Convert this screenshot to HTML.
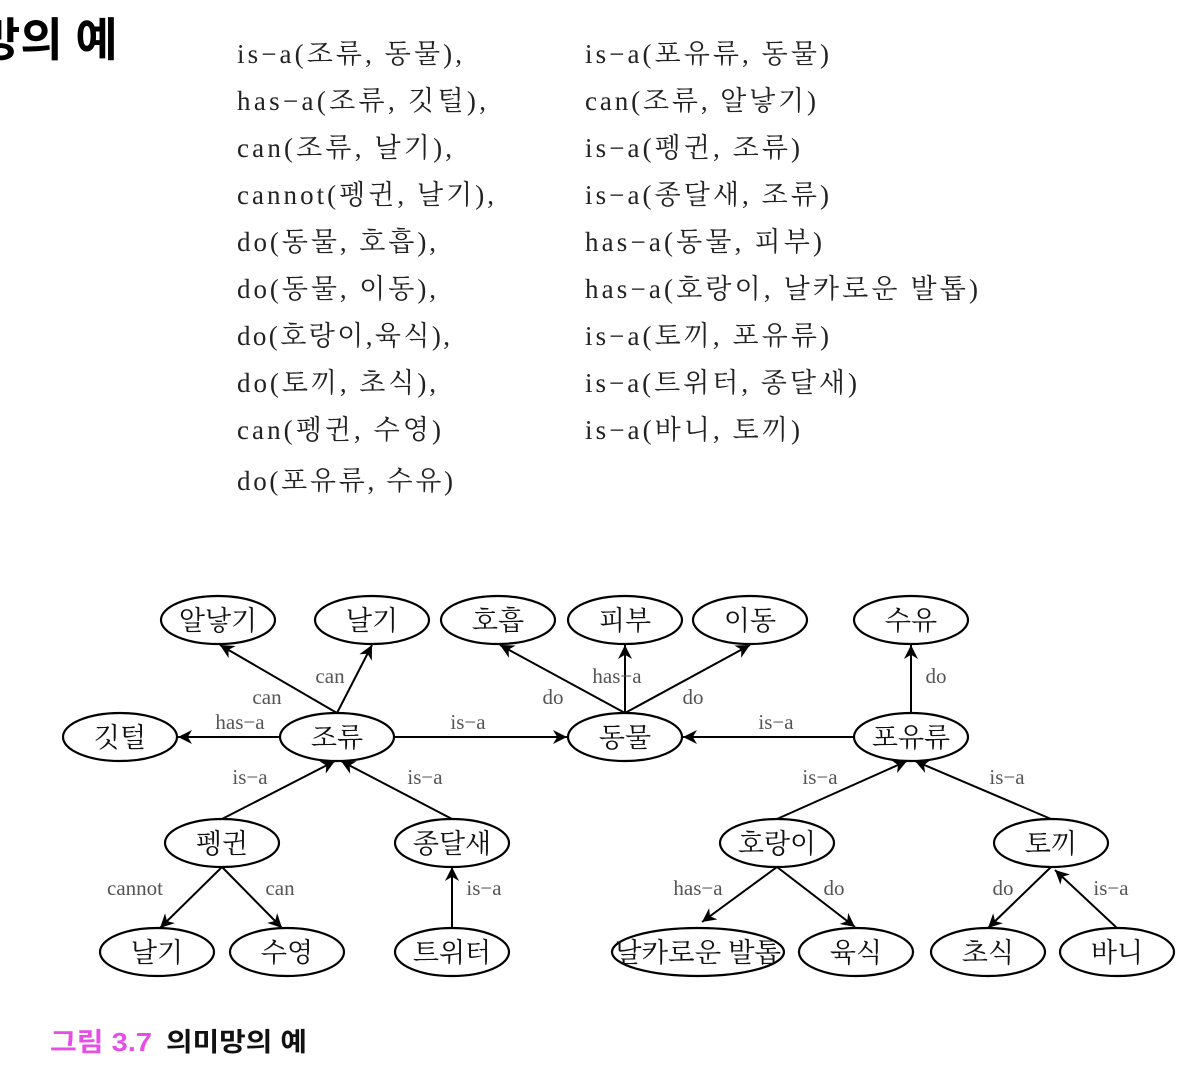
<!DOCTYPE html>
<html><head><meta charset="utf-8"><style>
body{margin:0;background:#fff;width:1198px;height:1064px;overflow:hidden}
svg text{font-family:"Liberation Serif","Noto Serif CJK KR","Noto Serif CJK SC",serif}
</style></head><body>
<svg width="1198" height="1064" viewBox="0 0 1198 1064" xmlns="http://www.w3.org/2000/svg">
<defs><marker id="a" viewBox="0 0 10 10" refX="10" refY="5" markerWidth="18" markerHeight="14" markerUnits="userSpaceOnUse" orient="auto"><path d="M0,0 L10,5 L0,10 L3,5z" fill="#000"/></marker></defs>
<text x="-22" y="56" font-size="46" font-weight="bold" style="font-family:'Liberation Sans','Noto Sans CJK KR',sans-serif">망의 예</text>
<g font-size="27" fill="#222" lengthAdjust="spacingAndGlyphs">
<text x="237" y="63" textLength="225">is−a(조류, 동물),</text>
<text x="237" y="110" textLength="249">has−a(조류, 깃털),</text>
<text x="237" y="157" textLength="215">can(조류, 날기),</text>
<text x="237" y="204" textLength="257">cannot(펭귄, 날기),</text>
<text x="237" y="251" textLength="199">do(동물, 호흡),</text>
<text x="237" y="298" textLength="199">do(동물, 이동),</text>
<text x="237" y="345" textLength="213">do(호랑이,육식),</text>
<text x="237" y="392" textLength="199">do(토끼, 초식),</text>
<text x="237" y="439" textLength="204">can(펭귄, 수영)</text>
<text x="237" y="490" textLength="216">do(포유류, 수유)</text>
<text x="585" y="63" textLength="244">is−a(포유류, 동물)</text>
<text x="585" y="110" textLength="231">can(조류, 알낳기)</text>
<text x="585" y="157" textLength="215">is−a(펭귄, 조류)</text>
<text x="585" y="204" textLength="244">is−a(종달새, 조류)</text>
<text x="585" y="251" textLength="237">has−a(동물, 피부)</text>
<text x="585" y="298" textLength="393">has−a(호랑이, 날카로운 발톱)</text>
<text x="585" y="345" textLength="244">is−a(토끼, 포유류)</text>
<text x="585" y="392" textLength="272">is−a(트위터, 종달새)</text>
<text x="585" y="439" textLength="215">is−a(바니, 토끼)</text>
</g>
<g fill="none" stroke="#000" stroke-width="2.2">
<ellipse cx="218" cy="620" rx="57" ry="24"/><ellipse cx="372" cy="620" rx="57" ry="24"/>
<ellipse cx="498" cy="620" rx="57" ry="24"/><ellipse cx="625" cy="620" rx="57" ry="24"/>
<ellipse cx="750" cy="620" rx="57" ry="24"/><ellipse cx="911" cy="620" rx="57" ry="24"/>
<ellipse cx="120" cy="737" rx="57" ry="24"/><ellipse cx="337" cy="737" rx="57" ry="24"/>
<ellipse cx="625" cy="737" rx="57" ry="24"/><ellipse cx="911" cy="737" rx="57" ry="24"/>
<ellipse cx="222" cy="843" rx="57" ry="24"/><ellipse cx="452" cy="843" rx="57" ry="24"/>
<ellipse cx="777" cy="843" rx="57" ry="24"/><ellipse cx="1051" cy="843" rx="57" ry="24"/>
<ellipse cx="157" cy="952" rx="57" ry="24"/><ellipse cx="287" cy="952" rx="57" ry="24"/>
<ellipse cx="452" cy="952" rx="57" ry="24"/><ellipse cx="698" cy="952" rx="86" ry="24"/>
<ellipse cx="856" cy="952" rx="57" ry="24"/><ellipse cx="988" cy="952" rx="57" ry="24"/>
<ellipse cx="1117" cy="952" rx="57" ry="24"/>
</g>
<g stroke="#000" stroke-width="2" marker-end="url(#a)">
<line x1="337" y1="713" x2="220" y2="645"/><line x1="337" y1="713" x2="372" y2="645"/>
<line x1="280" y1="737" x2="178" y2="737"/><line x1="394" y1="737" x2="567" y2="737"/>
<line x1="854" y1="737" x2="683" y2="737"/>
<line x1="625" y1="713" x2="500" y2="645"/><line x1="625" y1="713" x2="625" y2="645"/>
<line x1="625" y1="713" x2="750" y2="645"/><line x1="911" y1="713" x2="911" y2="645"/>
<line x1="222" y1="819" x2="335" y2="761"/><line x1="452" y1="819" x2="341" y2="761"/>
<line x1="452" y1="928" x2="452" y2="867"/>
<line x1="222" y1="867" x2="160" y2="928"/><line x1="222" y1="867" x2="282" y2="928"/>
<line x1="777" y1="819" x2="907" y2="761"/><line x1="1051" y1="819" x2="915" y2="761"/>
<line x1="777" y1="867" x2="702" y2="922"/><line x1="777" y1="867" x2="855" y2="927"/>
<line x1="1051" y1="867" x2="988" y2="928"/><line x1="1117" y1="928" x2="1055" y2="870"/>
</g>
<g font-size="27" text-anchor="middle" fill="#111" style="font-family:'Liberation Sans','Noto Sans CJK KR',sans-serif">
<text x="218" y="630">알낳기</text><text x="372" y="630">날기</text><text x="498" y="630">호흡</text>
<text x="625" y="630">피부</text><text x="750" y="630">이동</text><text x="911" y="630">수유</text>
<text x="120" y="747">깃털</text><text x="337" y="747">조류</text><text x="625" y="747">동물</text>
<text x="911" y="747">포유류</text><text x="222" y="853">펭귄</text><text x="452" y="853">종달새</text>
<text x="777" y="853">호랑이</text><text x="1051" y="853">토끼</text>
<text x="157" y="962">날기</text><text x="287" y="962">수영</text><text x="452" y="962">트위터</text>
<text x="698" y="962" textLength="166" lengthAdjust="spacingAndGlyphs">날카로운 발톱</text><text x="856" y="962">육식</text><text x="988" y="962">초식</text>
<text x="1117" y="962">바니</text>
</g>
<g font-size="21" fill="#555" text-anchor="middle">
<text x="330" y="683">can</text><text x="267" y="704">can</text><text x="240" y="729">has−a</text>
<text x="468" y="729">is−a</text><text x="553" y="704">do</text><text x="617" y="683">has−a</text>
<text x="693" y="704">do</text><text x="776" y="729">is−a</text><text x="936" y="683">do</text>
<text x="250" y="784">is−a</text><text x="425" y="784">is−a</text>
<text x="820" y="784">is−a</text><text x="1007" y="784">is−a</text>
<text x="135" y="895">cannot</text><text x="280" y="895">can</text><text x="484" y="895">is−a</text>
<text x="698" y="895">has−a</text><text x="834" y="895">do</text>
<text x="1003" y="895">do</text><text x="1111" y="895">is−a</text>
</g>
<text x="50" y="1051" font-size="26" font-weight="bold" fill="#e64ee6" textLength="102" lengthAdjust="spacingAndGlyphs" style="font-family:'Liberation Sans','Noto Sans CJK KR',sans-serif">그림 3.7</text>
<text x="166" y="1051" font-size="26" font-weight="bold" fill="#111" textLength="141" lengthAdjust="spacingAndGlyphs" style="font-family:'Liberation Sans','Noto Sans CJK KR',sans-serif">의미망의 예</text>
</svg>
</body></html>
